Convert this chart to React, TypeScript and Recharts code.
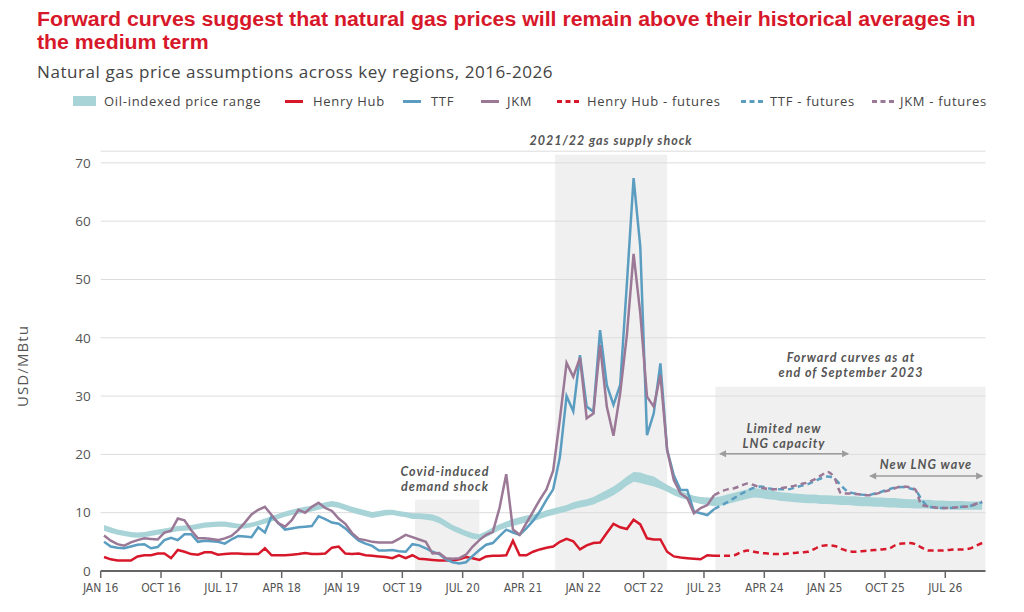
import React from 'react';
import {
  ComposedChart, Line, Area, XAxis, YAxis, CartesianGrid,
  ReferenceArea, ReferenceLine, ReferenceDot,
} from 'recharts';

// Month index 0 = Jan 2016 ... 131 = Dec 2026
const tickMonths = [0, 9, 18, 27, 36, 45, 54, 63, 72, 81, 90, 99, 108, 117, 126];
const tickLabels = ['JAN 16', 'OCT 16', 'JUL 17', 'APR 18', 'JAN 19', 'OCT 19', 'JUL 20', 'APR 21', 'JAN 22', 'OCT 22', 'JUL 23', 'APR 24', 'JAN 25', 'OCT 25', 'JUL 26'];
const yTicks = [0, 10, 20, 30, 40, 50, 60, 70];

// Historical series: Jan 2016 .. Aug 2023 (index 0..91)
const henryHub = [
  2.4, 2.0, 1.8, 1.8, 1.8, 2.5, 2.7, 2.7, 3.0, 3.0, 2.2, 3.6,
  3.3, 2.9, 2.8, 3.2, 3.2, 2.8, 2.9, 3.0, 3.0, 2.9, 2.9, 2.9,
  3.9, 2.7, 2.7, 2.7, 2.8, 2.9, 3.1, 2.9, 2.9, 3.0, 4.0, 4.2,
  3.0, 2.9, 3.0, 2.7, 2.6, 2.5, 2.4, 2.2, 2.7, 2.2, 2.7, 2.1,
  2.0, 1.9, 1.8, 1.8, 1.8, 2.0, 2.4, 2.2, 1.9, 2.5, 2.6, 2.6,
  2.7, 5.2, 2.7, 2.7, 3.3, 3.7, 4.0, 4.2, 5.0, 5.5, 5.1, 3.7,
  4.4, 4.8, 4.9, 6.5, 8.1, 7.5, 7.2, 8.8, 8.0, 5.6, 5.4, 5.4,
  3.3, 2.5, 2.3, 2.2, 2.1, 2.0, 2.7, 2.6,
];
const ttf = [
  5.0, 4.2, 4.0, 3.9, 4.2, 4.5, 4.6, 3.9, 4.1, 5.3, 5.7, 5.3,
  6.3, 6.3, 5.0, 5.2, 5.1, 5.0, 4.7, 5.4, 6.0, 5.9, 5.8, 7.5,
  6.6, 9.4, 8.2, 7.1, 7.3, 7.5, 7.6, 7.7, 9.4, 8.9, 8.3, 8.1,
  7.3, 6.2, 5.2, 4.7, 4.3, 3.5, 3.5, 3.6, 3.4, 3.3, 4.6, 4.4,
  3.9, 3.3, 2.9, 2.0, 1.5, 1.3, 1.5, 2.6, 3.6, 4.5, 4.8, 6.0,
  7.1, 6.6, 6.2, 7.3, 8.6, 10.2, 12.2, 14.0, 19.5, 30.0, 27.4, 37.0,
  28.2, 27.3, 41.3, 31.9, 28.5, 31.9, 49.3, 67.4, 55.6, 23.3, 27.0, 35.6,
  20.8, 16.4, 13.9, 13.9, 10.2, 9.9, 9.6, 10.6,
];
const jkm = [
  6.1, 5.2, 4.6, 4.35, 4.9, 5.3, 5.6, 5.5, 5.4, 6.6, 6.9, 9.0,
  8.7, 7.0, 5.6, 5.6, 5.5, 5.3, 5.6, 6.0, 7.0, 8.3, 9.7, 10.5,
  11.0, 9.6, 8.2, 7.6, 8.7, 10.5, 10.0, 11.0, 11.7, 10.8, 10.3, 9.0,
  8.1, 6.5, 5.5, 5.3, 5.0, 4.9, 4.9, 4.9, 5.5, 6.2, 5.8, 5.4,
  5.0, 3.0, 3.1, 2.2, 2.1, 2.2, 2.8, 4.2, 5.3, 6.2, 6.7, 10.8,
  16.6, 7.1, 6.2, 8.2, 10.2, 12.2, 14.0, 17.2, 26.0, 35.7, 33.3, 36.6,
  26.2, 27.0, 38.8, 28.2, 23.2, 30.5, 40.5, 54.4, 44.2, 29.9, 28.2, 33.6,
  20.8, 15.6, 13.3, 12.5, 9.9, 10.8, 11.3, 13.0,
];

// Futures (forward curves as at end of Sept 2023): index 91..131
const futStart = 91;
const henryHubFut = [
  2.6, 2.6, 2.6, 2.7, 3.2, 3.5, 3.3, 3.1, 3.0, 2.9,
  2.9, 3.0, 3.1, 3.2, 3.3, 3.8, 4.3, 4.4, 4.3, 3.8,
  3.4, 3.3, 3.4, 3.5, 3.6, 3.7, 3.8, 4.4, 4.7, 4.8,
  4.6, 4.0, 3.5, 3.5, 3.5, 3.6, 3.7, 3.7, 3.8, 4.3, 4.8,
];
const ttfFut = [
  10.6, 11.2, 11.8, 12.5, 13.2, 13.8, 14.3, 14.5, 14.2, 14.0,
  14.0, 14.0, 14.3, 14.6, 14.9, 15.4, 15.9, 16.2, 15.8, 14.6,
  13.6, 13.3, 13.1, 13.0, 13.3, 13.6, 14.0, 14.3, 14.4, 14.2,
  13.9, 12.2, 11.0, 10.9, 10.8, 10.8, 10.9, 11.0, 11.1, 11.4, 11.8,
];
const jkmFut = [
  13.0, 13.6, 14.0, 14.2, 14.6, 15.0, 14.7, 14.3, 14.1, 14.0,
  14.2, 14.4, 14.6, 14.9, 15.2, 15.7, 16.4, 17.0, 15.9, 13.3,
  13.3, 13.2, 13.1, 13.0, 13.2, 13.5, 13.8, 14.2, 14.5, 14.4,
  14.0, 11.3, 11.1, 10.9, 10.8, 10.8, 10.9, 11.0, 11.1, 11.5, 11.9,
];

// Oil-indexed price range (index 0..131)
const oilLow = [
  6.9, 6.5, 6.2, 6.0, 5.8, 5.7, 5.8, 6.0, 6.2, 6.4, 6.6, 6.8,
  6.9, 7.0, 7.2, 7.4, 7.5, 7.6, 7.6, 7.4, 7.3, 7.3, 7.5, 7.8,
  8.1, 8.5, 8.9, 9.3, 9.6, 9.8, 10.0, 10.2, 10.5, 10.8, 11.0, 10.8,
  10.4, 10.0, 9.7, 9.4, 9.1, 9.3, 9.5, 9.6, 9.4, 9.2, 8.9, 8.9,
  8.8, 8.6, 8.2, 7.5, 6.9, 6.4, 5.9, 5.5, 5.4, 5.8, 6.4, 7.0,
  7.4, 7.7, 8.0, 8.3, 8.5, 8.9, 9.3, 9.6, 9.9, 10.2, 10.6, 10.9,
  11.1, 11.4, 11.9, 12.4, 13.0, 13.7, 14.6, 15.3, 15.1, 14.8, 14.5, 14.1,
  13.6, 13.0, 12.5, 12.2, 11.8, 11.5, 11.3, 11.1, 11.2, 11.5, 11.8, 12.1,
  12.4, 12.6, 12.5, 12.3, 12.2, 12.0, 11.9, 11.8, 11.7, 11.6, 11.6, 11.5,
  11.5, 11.4, 11.3, 11.3, 11.2, 11.1, 11.1, 11.0, 11.0, 10.9, 10.9, 10.8,
  10.8, 10.7, 10.7, 10.7, 10.6, 10.6, 10.6, 10.5, 10.5, 10.5, 10.5, 10.5,
];
const oilHigh = [
  7.9, 7.5, 7.1, 6.9, 6.7, 6.6, 6.7, 6.9, 7.1, 7.3, 7.5, 7.7,
  7.8, 7.9, 8.1, 8.3, 8.4, 8.5, 8.5, 8.3, 8.1, 8.1, 8.3, 8.6,
  9.0, 9.4, 9.8, 10.2, 10.5, 10.8, 11.0, 11.2, 11.5, 11.8, 12.0, 11.8,
  11.4, 11.0, 10.7, 10.4, 10.1, 10.3, 10.5, 10.5, 10.3, 10.1, 9.9, 9.9,
  9.8, 9.7, 9.3, 8.6, 7.9, 7.4, 6.9, 6.5, 6.3, 6.8, 7.5, 8.0,
  8.5, 8.9, 9.2, 9.5, 9.7, 10.0, 10.4, 10.7, 11.0, 11.3, 11.8, 12.1,
  12.3, 12.7, 13.3, 13.9, 14.5, 15.3, 16.2, 17.0, 16.9, 16.5, 16.2, 15.5,
  14.8, 14.2, 13.7, 13.3, 12.9, 12.7, 12.6, 12.6, 12.8, 13.1, 13.4, 13.7,
  14.0, 14.2, 14.1, 13.9, 13.7, 13.5, 13.4, 13.3, 13.2, 13.1, 13.1, 13.0,
  13.0, 12.9, 12.9, 12.8, 12.8, 12.7, 12.7, 12.6, 12.6, 12.5, 12.5, 12.4,
  12.3, 12.3, 12.2, 12.2, 12.1, 12.1, 12.0, 12.0, 12.0, 11.9, 11.9, 11.9,
];

const C_RED = '#d7182a';
const C_BLUE = '#5b9dc0';
const C_PURPLE = '#9a7896';
const C_BAND = '#a8d4d8';
const C_TEXT = '#555555';
const C_ARROW = '#9c9c9c';

const rows = oilLow.map((lo, i) => ({
  t: i + 0.5,
  band: [lo, oilHigh[i]],
  hh: i < henryHub.length ? henryHub[i] : null,
  ttf: i < ttf.length ? ttf[i] : null,
  jkm: i < jkm.length ? jkm[i] : null,
  hhF: i >= futStart ? henryHubFut[i - futStart] : null,
  ttfF: i >= futStart ? ttfFut[i - futStart] : null,
  jkmF: i >= futStart ? jkmFut[i - futStart] : null,
}));

const SANS = '"Open Sans", "DejaVu Sans", sans-serif';
const NOTE_FONT = 'Lato, "Open Sans", sans-serif';
const NARROW = '"Liberation Sans Narrow", "DejaVu Sans Condensed", "Roboto", sans-serif';
const TITLE_FONT = '"Liberation Sans", Arial, sans-serif';

const arrowLeft = (p: any) => (
  <path d={`M${p.cx - 1},${p.cy} l7,-3.5 l0,7 z`} fill={C_ARROW} />
);
const arrowRight = (p: any) => (
  <path d={`M${p.cx + 1},${p.cy} l-7,-3.5 l0,7 z`} fill={C_ARROW} />
);

const legendItems = [
  { label: 'Oil-indexed price range', kind: 'band', color: C_BAND, x: 73, tx: 104 },
  { label: 'Henry Hub', kind: 'line', color: C_RED, x: 285, tx: 313 },
  { label: 'TTF', kind: 'line', color: C_BLUE, x: 403, tx: 431 },
  { label: 'JKM', kind: 'line', color: C_PURPLE, x: 481, tx: 507 },
  { label: 'Henry Hub - futures', kind: 'dash', color: C_RED, x: 557, tx: 587 },
  { label: 'TTF - futures', kind: 'dash', color: C_BLUE, x: 741, tx: 770 },
  { label: 'JKM - futures', kind: 'dash', color: C_PURPLE, x: 872, tx: 900 },
];

// Text block that is horizontally scaled to a target width (font substitute for a narrow face)
function FitText({ left, top, width, style, children }: any) {
  const ref = React.useRef<HTMLDivElement>(null);
  const [s, setS] = React.useState(1);
  React.useLayoutEffect(() => {
    if (ref.current) {
      const w = ref.current.offsetWidth;
      if (w > 0) setS(width / w);
    }
  }, [width]);
  return (
    <div
      ref={ref}
      style={{
        position: 'absolute', left, top, whiteSpace: 'nowrap', display: 'inline-block',
        transform: `scaleX(${s})`, transformOrigin: 'left top', ...style,
      }}
    >
      {children}
    </div>
  );
}

const Note = ({ x, y, lines }: { x: number; y: number; lines: string[] }) => (
  <div style={{
    position: 'absolute', left: x, top: y - 7.5, transform: 'translateX(-50%)',
    fontFamily: NOTE_FONT, fontStyle: 'italic', fontWeight: 700, fontSize: 12.5, letterSpacing: 1.0,
    lineHeight: '15px', color: C_TEXT, textAlign: 'center', whiteSpace: 'nowrap',
  }}>
    {lines.map((l) => <div key={l}>{l}</div>)}
  </div>
);

export default function App() {
  return (
    <div style={{ position: 'absolute', left: 0, top: 0, width: 1024, height: 612, background: '#fff', overflow: 'hidden' }}>
      <FitText
        left={37}
        top={7.5}
        width={938}
        style={{ fontFamily: TITLE_FONT, fontWeight: 700, fontSize: 20, lineHeight: '23.3px', color: C_RED }}
      >
        Forward curves suggest that natural gas prices will remain above their historical averages in<br />the medium term
      </FitText>
      <FitText
        left={37}
        top={61}
        width={516}
        style={{ fontFamily: SANS, fontSize: 15.5, letterSpacing: 0.5, color: '#444' }}
      >
        Natural gas price assumptions across key regions, 2016-2026
      </FitText>
      {legendItems.map((it) => (
        <React.Fragment key={it.label}>
          {it.kind === 'band' && (
            <div style={{ position: 'absolute', left: it.x, top: 96, width: 23, height: 10, background: it.color }} />
          )}
          {it.kind === 'line' && (
            <div style={{ position: 'absolute', left: it.x, top: 100, width: 18, height: 3, background: it.color }} />
          )}
          {it.kind === 'dash' && (
            <svg style={{ position: 'absolute', left: it.x, top: 99 }} width={22} height={5}>
              <line x1={0} y1={2.5} x2={22} y2={2.5} stroke={it.color} strokeWidth={3} strokeDasharray="5 3.5" />
            </svg>
          )}
          <div style={{
            position: 'absolute', left: it.tx, top: 92, fontFamily: SANS, fontSize: 13, letterSpacing: 0.7,
            color: '#444', whiteSpace: 'nowrap',
          }}>{it.label}</div>
        </React.Fragment>
      ))}
      <div style={{
        position: 'absolute', left: 22, top: 366, transform: 'translate(-50%, -50%) rotate(-90deg)',
        fontFamily: SANS, fontSize: 15, letterSpacing: 1.1, color: C_TEXT, whiteSpace: 'nowrap',
      }}>USD/MBtu</div>

      <div style={{ position: 'absolute', left: 0, top: 0 }}>
        <ComposedChart
          width={1024}
          height={612}
          data={rows}
          margin={{ top: 151.2, right: 38.5, bottom: 11, left: 0 }}
        >
          <CartesianGrid vertical={false} stroke="#dcdcdc" strokeWidth={1} />
          <ReferenceArea x1={67.8} x2={84.5} y1={0} y2={71.4} fill="#dedede" fillOpacity={0.45} stroke="none" ifOverflow="visible" />
          <ReferenceArea x1={46.9} x2={56.5} y1={0} y2={12.2} fill="#dedede" fillOpacity={0.45} stroke="none" />
          <ReferenceArea x1={91.7} x2={132} y1={0} y2={31.6} fill="#dedede" fillOpacity={0.45} stroke="none" />
          <XAxis
            dataKey="t"
            type="number"
            domain={[0, 132]}
            ticks={tickMonths}
            tickFormatter={(v: number) => tickLabels[tickMonths.indexOf(v)] ?? ''}
            interval={0}
            height={30}
            axisLine={{ stroke: '#666', strokeWidth: 2 }}
            tickLine={{ stroke: '#666', strokeWidth: 1.5 }}
            tickSize={7}
            tickMargin={5}
            tick={{ fill: C_TEXT, fontSize: 12, fontFamily: NARROW }}
          />
          <YAxis
            type="number"
            domain={[0, 72]}
            ticks={yTicks}
            width={100.7}
            axisLine={false}
            tickLine={false}
            tickSize={0}
            tickMargin={10}
            tick={{ fill: C_TEXT, fontSize: 13.5, fontFamily: SANS }}
          />
          <Area dataKey="band" type="linear" stroke="none" fill={C_BAND} fillOpacity={1} isAnimationActive={false} />
          <Line dataKey="hh" type="linear" stroke={C_RED} strokeWidth={2.5} dot={false} isAnimationActive={false} />
          <Line dataKey="ttf" type="linear" stroke={C_BLUE} strokeWidth={2.5} dot={false} isAnimationActive={false} />
          <Line dataKey="jkm" type="linear" stroke={C_PURPLE} strokeWidth={2.5} dot={false} isAnimationActive={false} />
          <Line dataKey="hhF" type="monotone" stroke={C_RED} strokeWidth={2.5} strokeDasharray="6 4" dot={false} isAnimationActive={false} />
          <Line dataKey="ttfF" type="monotone" stroke={C_BLUE} strokeWidth={2.5} strokeDasharray="6 4" dot={false} isAnimationActive={false} />
          <Line dataKey="jkmF" type="monotone" stroke={C_PURPLE} strokeWidth={2.5} strokeDasharray="6 4" dot={false} isAnimationActive={false} />
          <ReferenceLine segment={[{ x: 92.4, y: 20.1 }, { x: 111.5, y: 20.1 }]} stroke={C_ARROW} strokeWidth={1.5} />
          <ReferenceDot x={92.4} y={20.1} shape={arrowLeft} />
          <ReferenceDot x={111.5} y={20.1} shape={arrowRight} />
          <ReferenceLine segment={[{ x: 114.8, y: 16.3 }, { x: 131.5, y: 16.3 }]} stroke={C_ARROW} strokeWidth={1.5} />
          <ReferenceDot x={114.8} y={16.3} shape={arrowLeft} />
          <ReferenceDot x={131.5} y={16.3} shape={arrowRight} />
        </ComposedChart>
      </div>

      <Note x={611} y={140} lines={['2021/22 gas supply shock']} />
      <Note x={445} y={471} lines={['Covid-induced', 'demand shock']} />
      <Note x={851} y={357} lines={['Forward curves as at', 'end of September 2023']} />
      <Note x={784} y={428} lines={['Limited new', 'LNG capacity']} />
      <Note x={926} y={464} lines={['New LNG wave']} />
    </div>
  );
}
